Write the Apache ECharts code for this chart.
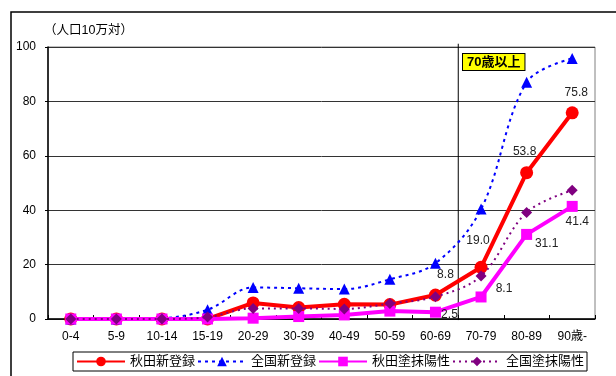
<!DOCTYPE html>
<html>
<head>
<meta charset="utf-8">
<script src="https://cdn.jsdelivr.net/npm/echarts@6/dist/echarts.min.js"></script>
<style>
  html, body { margin: 0; padding: 0; background: #fff; }
  #chart { width: 616px; height: 376px; }
</style>
</head>
<body>
<div id="chart"></div>
<script>
// Age groups on the horizontal axis
const ageGroups = ['0-4', '5-9', '10-14', '15-19', '20-29', '30-39', '40-49', '50-59', '60-69', '70-79', '80-89', '90歳-'];

// Rates per 100,000 population
const akitaNew      = [0, 0, 0, 0, 5.9, 4.2, 5.4, 5.3, 8.8, 19.0, 53.8, 75.8];
const nationalNew   = [0, 0, 0.3, 3.4, 11.6, 11.3, 11.0, 14.6, 20.5, 40.4, 87.0, 95.8];
const akitaSmear    = [0, 0, 0, 0, 0.3, 0.9, 1.5, 2.9, 2.5, 8.1, 31.1, 41.4];
const nationalSmear = [0, 0, 0, 0.7, 3.9, 3.9, 3.7, 5.7, 8.2, 15.8, 39.2, 47.3];

const yTicks = [0, 20, 40, 60, 80, 100];
const seventyPlusStart = 9; // index where the 70+ block begins

const FONT = '"Liberation Sans", "Noto Sans CJK JP", sans-serif';

// Data-label offsets (text centre relative to the marker)
const akitaNewLabelOffsets = { 8: [10, -20], 9: [-3, -27], 10: [-2, -21], 11: [4, -20] };
const akitaSmearLabelOffsets = { 8: [14, 2], 9: [23, -8], 10: [20, 9], 11: [5, 15] };

function withLabels(values, offsets) {
  return values.map((v, i) => {
    if (!offsets[i]) return v;
    return {
      value: v,
      label: {
        show: true,
        position: 'inside',
        offset: offsets[i],
        formatter: p => Number(p.value).toFixed(1),
        color: '#222',
        fontSize: 12,
        fontFamily: FONT
      }
    };
  });
}

const chart = echarts.init(document.getElementById('chart'));

chart.setOption({
  animation: false,
  backgroundColor: '#fff',
  textStyle: { fontFamily: FONT },
  grid: {
    left: 48, right: 21, top: 47, bottom: 57,
    show: true, borderColor: '#808080', borderWidth: 1
  },
  graphic: [
    {
      type: 'rect',
      shape: { x: 11, y: 12, width: 700, height: 500 },
      style: { fill: 'none', stroke: '#000', lineWidth: 1.5 },
      silent: true
    },
    {
      type: 'text',
      left: 44, top: 24,
      style: { text: '（人口10万対）', fontSize: 12.5, fontFamily: FONT, fill: '#000' }
    },
    {
      type: 'text',
      left: 462, top: 53,
      z: 20,
      style: {
        text: '70歳以上',
        fontSize: 13, fontWeight: 'bold', fontFamily: FONT, fill: '#000',
        backgroundColor: '#ffff00', borderColor: '#000', borderWidth: 1,
        padding: [2, 4, 1, 4]
      }
    }
  ],
  legend: {
    left: 73, top: 352,
    orient: 'horizontal',
    itemWidth: 48, itemHeight: 12, itemGap: 2,
    padding: [3, 3],
    borderColor: '#000', borderWidth: 1,
    textStyle: { fontSize: 13, color: '#000', fontFamily: FONT },
    data: ['秋田新登録', '全国新登録', '秋田塗抹陽性', '全国塗抹陽性']
  },
  xAxis: [
    {
      type: 'category',
      data: ageGroups,
      axisLine: { lineStyle: { color: '#000', width: 1.5 } },
      axisTick: { show: true, inside: true, length: 4, lineStyle: { color: '#000' } },
      axisLabel: { color: '#000', fontSize: 12, margin: 12, fontFamily: FONT },
      splitLine: { show: false }
    },
    {
      // hidden index axis used to place the 70+ divider between categories
      type: 'value', min: 0, max: ageGroups.length, show: false
    }
  ],
  yAxis: {
    type: 'value',
    min: yTicks[0], max: yTicks[yTicks.length - 1], interval: 20,
    axisLine: { show: true, lineStyle: { color: '#000', width: 1.5 } },
    axisTick: { show: true, length: 3, lineStyle: { color: '#000' } },
    axisLabel: { color: '#000', fontSize: 12, margin: 12, fontFamily: FONT },
    splitLine: { show: true, lineStyle: { color: '#333', width: 1 } }
  },
  series: [
    {
      name: '秋田新登録',
      type: 'line',
      data: withLabels(akitaNew, akitaNewLabelOffsets),
      symbol: 'circle', symbolSize: 13,
      itemStyle: { color: '#ff0000' },
      lineStyle: { color: '#ff0000', width: 4 },
      z: 3
    },
    {
      name: '全国新登録',
      type: 'line',
      data: nationalNew,
      smooth: 0.35,
      symbol: 'triangle', symbolSize: 11,
      itemStyle: { color: '#0000ff' },
      lineStyle: { color: '#0000ff', width: 2, type: [3, 4] },
      z: 4
    },
    {
      name: '秋田塗抹陽性',
      type: 'line',
      data: withLabels(akitaSmear, akitaSmearLabelOffsets),
      symbol: 'rect', symbolSize: 11,
      itemStyle: { color: '#ff00ff' },
      lineStyle: { color: '#ff00ff', width: 4 },
      z: 5
    },
    {
      name: '全国塗抹陽性',
      type: 'line',
      data: nationalSmear,
      smooth: 0.35,
      symbol: 'diamond', symbolSize: 11,
      itemStyle: { color: '#800080' },
      lineStyle: { color: '#800080', width: 2, type: [2, 4] },
      z: 6
    },
    {
      // 70+ divider line between the 60-69 and 70-79 groups
      name: 'divider',
      type: 'line',
      xAxisIndex: 1,
      data: [[seventyPlusStart, -0.4], [seventyPlusStart, 101.2]],
      symbol: 'none',
      silent: true,
      clip: false,
      lineStyle: { color: '#000', width: 1, type: 'solid' },
      z: 2
    }
  ]
});
</script>
</body>
</html>
